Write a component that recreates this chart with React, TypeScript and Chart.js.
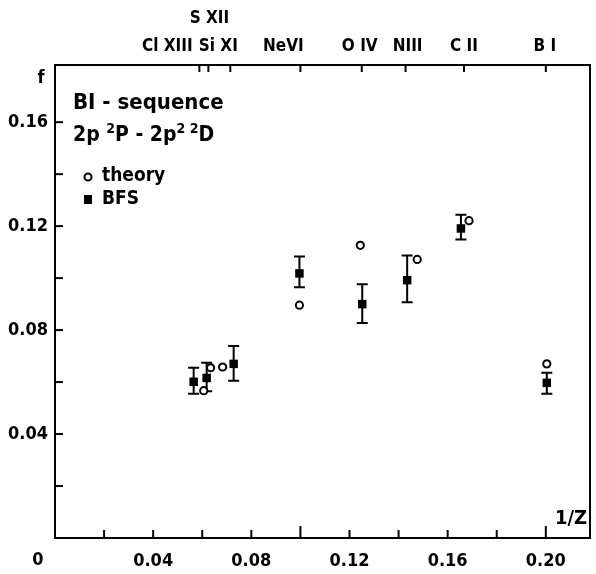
import React, { useEffect, useRef } from 'react';
import { Chart, registerables } from 'chart.js';
Chart.register(...registerables);

// ---- data ----
const ionLabels = ['Cl XIII', 'S XII', 'Si XI', 'NeVI', 'O IV', 'NIII', 'C II', 'B I'];
const ionZ = [17, 16, 14, 10, 8, 7, 6, 5];

const bfsX = [0.0565, 0.0618, 0.0728, 0.0996, 0.1252, 0.1435, 0.1654, 0.2004];
const bfsF = [0.0601, 0.0616, 0.067, 0.1018, 0.09, 0.0992, 0.1191, 0.0597];
const bfsErrHigh = [0.0655, 0.0674, 0.0739, 0.1083, 0.0976, 0.1087, 0.1244, 0.0636];
const bfsErrLow = [0.0555, 0.0565, 0.0605, 0.0965, 0.0827, 0.0907, 0.1149, 0.0555];

const theoryX = [0.0606, 0.0634, 0.0683, 0.0996, 0.1244, 0.1476, 0.1687, 0.2004];
const theoryF = [0.0567, 0.0655, 0.0658, 0.0896, 0.1126, 0.1072, 0.1221, 0.067];

const xTicks = [0, 0.02, 0.04, 0.06, 0.08, 0.1, 0.12, 0.14, 0.16, 0.18, 0.2];
const xTickLabels = ['', '', '0.04', '', '0.08', '', '0.12', '', '0.16', '', '0.20'];
const yTicks = [0, 0.02, 0.04, 0.06, 0.08, 0.1, 0.12, 0.14, 0.16];
const yTickLabels = ['', '', '0.04', '', '0.08', '', '0.12', '', '0.16'];
const longXTicks = [0.1, 0.2];

// ---- styling (not data) ----
const FONT = '"DejaVu Sans Condensed", "DejaVu Sans", sans-serif';
const W = 'bold';
const ionLabelRow = [1, 0, 1, 1, 1, 1, 1, 1];
const ionLabelShift = [-32, 1, -12, -17, -2, 2, 0, -1];

export default function App() {
  const ref = useRef<HTMLCanvasElement>(null);

  useEffect(() => {
    const canvas = ref.current!;

    const drawPlugin = {
      id: 'drawPlugin',
      beforeDraw(chart: any) {
        const { ctx, width, height } = chart;
        ctx.save();
        ctx.fillStyle = '#fff';
        ctx.fillRect(0, 0, width, height);
        ctx.restore();
      },
      beforeDatasetsDraw(chart: any) {
        const { ctx, scales } = chart;
        const x = scales.x, y = scales.y;
        ctx.save();
        ctx.strokeStyle = '#000';
        ctx.lineWidth = 2;
        for (let i = 0; i < bfsX.length; i++) {
          const px = x.getPixelForValue(bfsX[i]);
          const hi = y.getPixelForValue(bfsErrHigh[i]);
          const lo = y.getPixelForValue(bfsErrLow[i]);
          ctx.beginPath();
          ctx.moveTo(px, hi); ctx.lineTo(px, lo);
          ctx.moveTo(px - 5.5, hi); ctx.lineTo(px + 5.5, hi);
          ctx.moveTo(px - 5.5, lo); ctx.lineTo(px + 5.5, lo);
          ctx.stroke();
        }
        ctx.restore();
      },
      afterDraw(chart: any) {
        const { ctx, chartArea: a, scales } = chart;
        const x = scales.x, y = scales.y;
        ctx.save();
        ctx.strokeStyle = '#000';
        ctx.fillStyle = '#000';
        ctx.lineWidth = 2;
        ctx.strokeRect(a.left, a.top, a.right - a.left, a.bottom - a.top);

        const line = (x1: number, y1: number, x2: number, y2: number) => {
          ctx.beginPath(); ctx.moveTo(x1, y1); ctx.lineTo(x2, y2); ctx.stroke();
        };
        // inward x ticks
        xTicks.forEach((v) => {
          if (v === 0) return;
          const px = x.getPixelForValue(v);
          const len = longXTicks.includes(v) ? 12 : 8;
          line(px, a.bottom, px, a.bottom - len);
        });
        // inward y ticks
        yTicks.forEach((v) => {
          if (v === 0) return;
          const py = y.getPixelForValue(v);
          line(a.left, py, a.left + 8, py);
        });
        // top ion ticks & labels
        ctx.font = `${W} 17px ${FONT}`;
        ctx.textBaseline = 'middle';
        ctx.textAlign = 'center';
        ionZ.forEach((z, i) => {
          const px = x.getPixelForValue(1 / z);
          line(px, a.top, px, a.top + 7);
          const ly = ionLabelRow[i] === 0 ? 19 : 47;
          ctx.fillText(ionLabels[i], px + ionLabelShift[i], ly);
        });

        // axis captions
        ctx.font = `${W} 18px ${FONT}`;
        ctx.fillText('0', x.getPixelForValue(0) - 17, a.bottom + 22);
        ctx.fillText('f', a.left - 14, a.top + 13);
        ctx.font = `${W} 20px ${FONT}`;
        ctx.fillText('1/Z', a.right - 19, a.bottom - 19);

        // legend block
        ctx.textAlign = 'left';
        ctx.font = `${W} 22px ${FONT}`;
        ctx.fillText('BI - sequence', a.left + 18, a.top + 38);
        const big = `${W} 21px ${FONT}`;
        const sup = `${W} 14px ${FONT}`;
        let cx = a.left + 18;
        const by = a.top + 71;
        const seg = (txt: string, font: string, dy: number) => {
          ctx.font = font;
          ctx.fillText(txt, cx, by + dy);
          cx += ctx.measureText(txt).width;
        };
        seg('2p ', big, 0);
        seg('2', sup, -7);
        seg('P - 2p', big, 0);
        seg('2', sup, -7);
        seg(' 2', sup, -7);
        seg('D', big, 0);

        ctx.font = `${W} 19px ${FONT}`;
        ctx.lineWidth = 2;
        ctx.beginPath();
        ctx.arc(a.left + 33, a.top + 112, 3.5, 0, Math.PI * 2);
        ctx.stroke();
        ctx.fillText('theory', a.left + 47, a.top + 111);
        ctx.fillRect(a.left + 29, a.top + 130, 8, 9);
        ctx.fillText('BFS', a.left + 47, a.top + 134);
        ctx.restore();
      },
    };

    const chart = new Chart(canvas, {
      type: 'scatter',
      data: {
        datasets: [
          {
            label: 'theory',
            data: theoryX.map((v, i) => ({ x: v, y: theoryF[i] })),
            pointStyle: 'circle',
            pointRadius: 3.6,
            borderWidth: 2,
            borderColor: '#000',
            backgroundColor: '#fff',
            showLine: false,
          },
          {
            label: 'BFS',
            data: bfsX.map((v, i) => ({ x: v, y: bfsF[i] })),
            pointStyle: 'rect',
            pointRadius: 6,
            borderWidth: 0,
            borderColor: '#000',
            backgroundColor: '#000',
            showLine: false,
          },
        ],
      },
      options: {
        animation: false,
        responsive: true,
        maintainAspectRatio: false,
        layout: { padding: { top: 65, right: 4, left: 0, bottom: 0 } },
        plugins: { legend: { display: false }, tooltip: { enabled: false } },
        scales: {
          x: {
            type: 'linear',
            min: 0,
            max: 0.218,
            grid: { display: false, drawTicks: false },
            border: { display: false },
            afterBuildTicks: (s: any) => { s.ticks = xTicks.map((v) => ({ value: v })); },
            afterFit: (s: any) => { s.height = 36; s.paddingLeft = 0; s.paddingRight = 0; },
            ticks: {
              autoSkip: false,
              maxRotation: 0,
              padding: 13,
              color: '#000',
              font: { family: FONT, size: 18, weight: W },
              callback: (v: any) => {
                const i = xTicks.findIndex((t) => Math.abs(t - v) < 1e-6);
                return i >= 0 ? xTickLabels[i] : '';
              },
            },
          },
          y: {
            type: 'linear',
            min: 0,
            max: 0.182,
            grid: { display: false, drawTicks: false },
            border: { display: false },
            afterBuildTicks: (s: any) => { s.ticks = yTicks.map((v) => ({ value: v })); },
            afterFit: (s: any) => { s.width = 55; s.paddingTop = 0; s.paddingBottom = 0; },
            ticks: {
              autoSkip: false,
              padding: 7,
              color: '#000',
              font: { family: FONT, size: 18, weight: W },
              callback: (v: any) => {
                const i = yTicks.findIndex((t) => Math.abs(t - v) < 1e-6);
                return i >= 0 ? yTickLabels[i] : '';
              },
            },
          },
        },
      },
      plugins: [drawPlugin],
    });
    return () => chart.destroy();
  }, []);

  return (
    <div style={{ position: 'fixed', left: 0, top: 0, width: 596, height: 574, background: '#fff' }}>
      <canvas ref={ref} />
    </div>
  );
}
